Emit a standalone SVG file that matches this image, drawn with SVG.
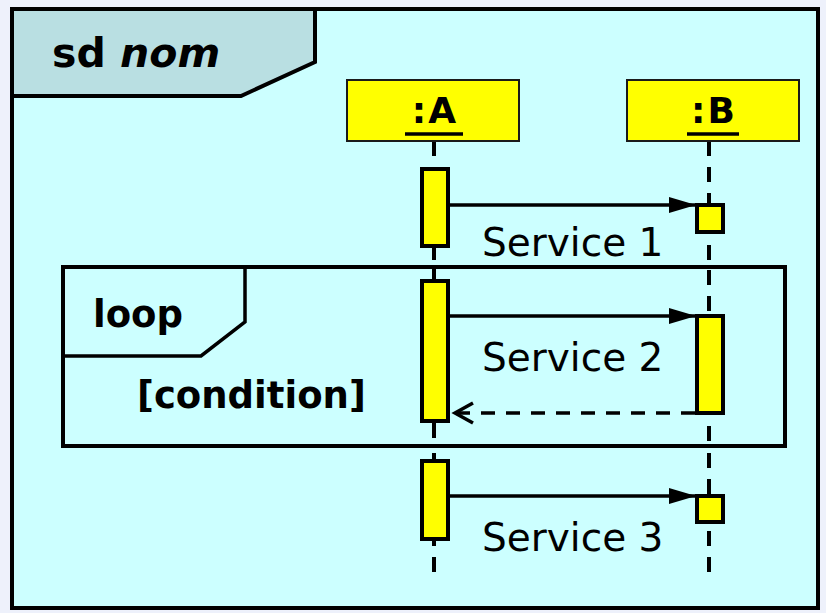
<svg xmlns="http://www.w3.org/2000/svg" width="826" height="613" viewBox="0 0 826 613">
  <style>
    .frame { fill: #ccffff; stroke: #000; stroke-width: 4; }
    .tab { fill: #b9dfe2; stroke: #000; stroke-width: 4; stroke-linejoin: miter; }
    .looptab { fill: none; stroke: #000; stroke-width: 3.5; }
    .head { fill: #ffff00; stroke: #1a1a1a; stroke-width: 2; }
    .act { fill: #ffff00; stroke: #000; stroke-width: 4; }
    .life { stroke: #000; stroke-width: 4; stroke-dasharray: 15 11; fill: none; }
    .msg { stroke: #000; stroke-width: 3.5; fill: none; }
    .ret { stroke: #000; stroke-width: 3.5; fill: none; stroke-dasharray: 14 11; }
    .bold { font-family: "DejaVu Sans", Verdana, sans-serif; font-weight: bold; fill: #000; }
    .lbl { font-family: "DejaVu Sans", Verdana, sans-serif; font-size: 39px; fill: #000; }
    .obj { font-family: "DejaVu Sans", sans-serif; font-weight: bold; font-size: 36px; fill: #000; text-anchor: middle; letter-spacing: 2px; }
  </style>
  <defs>
    <marker id="filled" markerWidth="27" markerHeight="18" refX="27" refY="9" orient="auto" markerUnits="userSpaceOnUse">
      <path d="M0,1 L27,9 L0,17 Z" fill="#000"/>
    </marker>
  </defs>

  <!-- page background -->
  <rect x="0" y="0" width="826" height="613" fill="#eef1fb"/>

  <!-- sequence diagram frame -->
  <g id="frame-sd">
    <rect class="frame" x="12" y="9" width="806" height="599"/>
    <path class="tab" d="M12,9 H315 V62 L241,96 H12 Z"/>
    <text class="bold" x="52" y="67" font-size="41">sd <tspan font-style="italic">nom</tspan></text>
  </g>

  <!-- lifelines -->
  <g id="lifelines">
    <line class="life" x1="434" y1="141" x2="434" y2="577" stroke-dasharray="16 11"/>
    <line class="life" x1="709" y1="141" x2="709" y2="574"/>
  </g>

  <!-- loop fragment -->
  <g id="loop">
    <rect x="63" y="267" width="722" height="179" fill="#ccffff" stroke="#000" stroke-width="4"/>
    <path class="looptab" d="M63,267 H245 V322 L201,356 H63"/>
    <text class="bold" x="93" y="327" font-size="37">loop</text>
    <text class="bold" x="137" y="408" font-size="37">[condition]</text>
  </g>

  <!-- lifelines redrawn over the loop fill -->
  <g id="lifelines-in-loop">
    <line class="life" x1="434" y1="267" x2="434" y2="446" stroke-dasharray="0"/>
    <line class="life" x1="709" y1="270" x2="709" y2="446" stroke-dasharray="15 11"/>
  </g>

  <!-- object heads -->
  <g id="objA">
    <rect class="head" x="347" y="80" width="172" height="61"/>
    <text class="obj" x="435" y="123">:A</text>
    <line x1="405" y1="134" x2="463" y2="134" stroke="#000" stroke-width="3.5"/>
  </g>
  <g id="objB">
    <rect class="head" x="627" y="80" width="172" height="61"/>
    <text class="obj" x="714" y="123">:B</text>
    <line x1="687" y1="134" x2="739" y2="134" stroke="#000" stroke-width="3.5"/>
  </g>

  <!-- activation bars -->
  <g id="activations">
    <rect class="act" x="422" y="169" width="26" height="77"/>
    <rect class="act" x="697" y="205" width="26" height="27"/>
    <rect class="act" x="422" y="281" width="26" height="140"/>
    <rect class="act" x="697" y="316" width="26" height="97"/>
    <rect class="act" x="422" y="461" width="26" height="78"/>
    <rect class="act" x="697" y="496" width="26" height="26"/>
  </g>

  <!-- messages -->
  <g id="connectors">
    <line class="msg" x1="449" y1="205" x2="696" y2="205" marker-end="url(#filled)"/>
    <line class="msg" x1="449" y1="316" x2="696" y2="316" marker-end="url(#filled)"/>
    <line class="ret" x1="695" y1="413" x2="457" y2="413"/>
    <path class="msg" d="M473,403 L455,413 L473,423"/>
    <line class="msg" x1="449" y1="496" x2="696" y2="496" marker-end="url(#filled)"/>
  </g>

  <!-- message labels -->
  <g id="labels">
    <text class="lbl" x="482" y="256">Service 1</text>
    <text class="lbl" x="482" y="371">Service 2</text>
    <text class="lbl" x="482" y="551">Service 3</text>
  </g>
</svg>
